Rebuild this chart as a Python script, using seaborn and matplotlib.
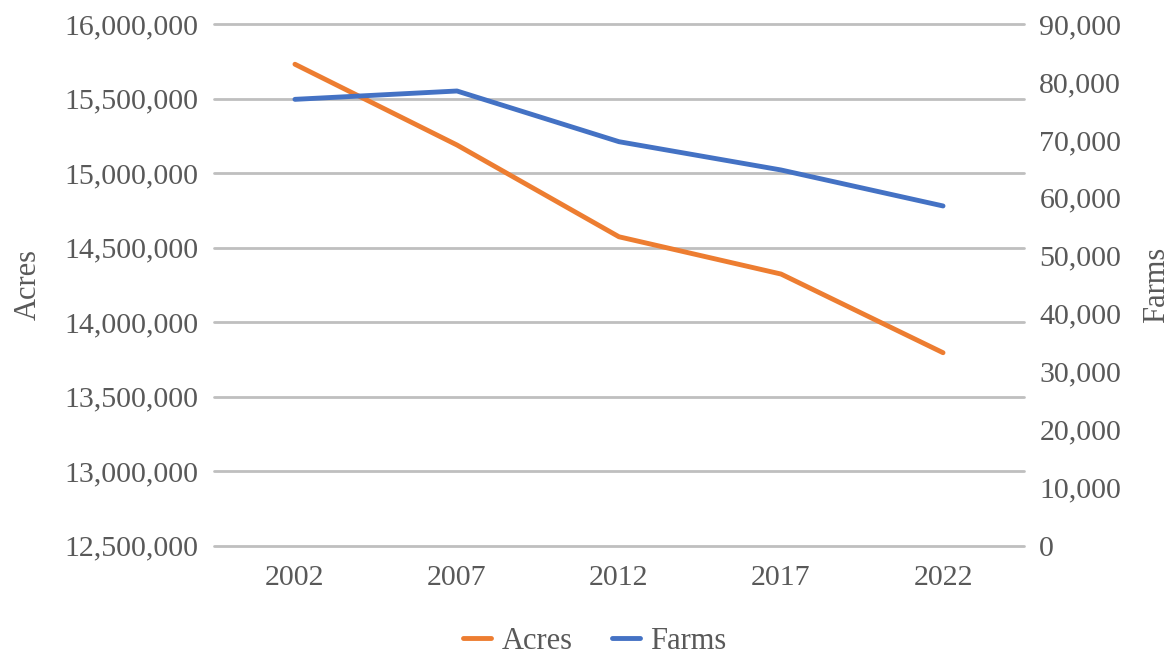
import matplotlib
matplotlib.use("Agg")
import matplotlib.pyplot as plt
import seaborn as sns
import pandas as pd
from matplotlib.ticker import FuncFormatter, MultipleLocator

years = ["2002", "2007", "2012", "2017", "2022"]
acres = [15730000, 15188000, 14572000, 14322000, 13794000]
farms = [77000, 78440, 69690, 64810, 58600]

sns.set_theme(style="white")
plt.rcParams['font.family'] = ['Liberation Serif', 'DejaVu Serif']

TXT = "#595959"
GRID = "#BFBFBF"
ORANGE = "#ED7D31"
BLUE = "#4472C4"

df = pd.DataFrame({"Year": years, "Acres": acres, "Farms": farms})

fig = plt.figure(figsize=(11.71, 6.56), dpi=100)
ax = fig.add_axes([0.1827, 0.1684, 0.6918, 0.795])
ax2 = ax.twinx()

sns.lineplot(data=df, x="Year", y="Acres", ax=ax, color=ORANGE, linewidth=3.5, sort=False, label="Acres", legend=False)
sns.lineplot(data=df, x="Year", y="Farms", ax=ax2, color=BLUE, linewidth=3.5, sort=False, label="Farms", legend=False)

ax.set_xlim(-0.5, len(years) - 0.5)
ax.set_ylim(12500000, 16000000)
ax.yaxis.set_major_locator(MultipleLocator(500000))
ax2.set_ylim(0, 90000)
ax2.yaxis.set_major_locator(MultipleLocator(10000))

fmt = FuncFormatter(lambda v, p: f"{int(round(v)):,}")
ax.yaxis.set_major_formatter(fmt)
ax2.yaxis.set_major_formatter(fmt)

ax.grid(axis="y", color=GRID, linewidth=2)
for gl in ax.get_ygridlines():
    gl.set_clip_on(False)
ax.set_axisbelow(True)
for a in (ax, ax2):
    for s in a.spines.values():
        s.set_visible(False)
    a.tick_params(axis="both", length=0, labelsize=21.5, colors=TXT)
ax.tick_params(axis="y", pad=11)
ax2.tick_params(axis="y", pad=11)
ax.tick_params(axis="x", pad=14)

ax.set_xlabel("")
ax.set_ylabel("Acres", fontsize=22, color=TXT, labelpad=16)
ax2.set_ylabel("Farms", fontsize=22, color=TXT, labelpad=15, rotation=90)

h1, l1 = ax.get_legend_handles_labels()
h2, l2 = ax2.get_legend_handles_labels()
fig.legend(h1 + h2, l1 + l2, loc="center", bbox_to_anchor=(0.508, 0.022), ncol=2,
           frameon=False, fontsize=22, labelcolor=TXT, handlelength=0.9,
           handletextpad=0.35, columnspacing=1.3)

fig.savefig("out.png", dpi=100)
